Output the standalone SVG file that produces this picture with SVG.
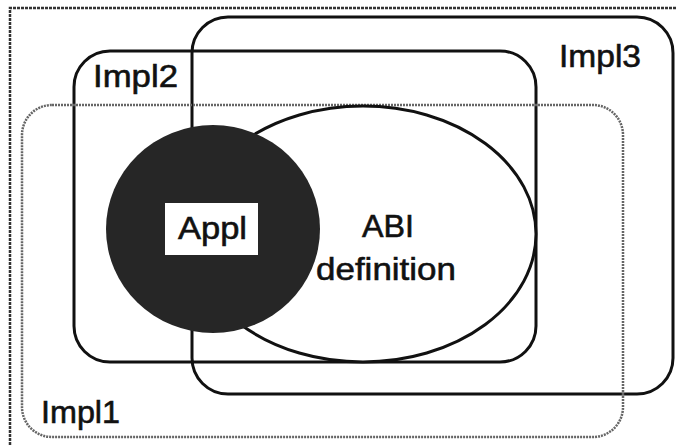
<svg xmlns="http://www.w3.org/2000/svg" width="676" height="445" viewBox="0 0 676 445">
  <style>
    .solid { fill: none; stroke: #111; stroke-width: 3; }
    .dotted { fill: none; stroke: #666; stroke-width: 2.5; stroke-dasharray: 2 1; }
    .label { font-family: "Liberation Sans", Arial, Helvetica, sans-serif; font-size: 32px; fill: #111; stroke: #111; stroke-width: 0.6; }
  </style>
  <rect width="676" height="445" fill="#fff"/>

  <!-- page frame (top and left edges) -->
  <path d="M10,445 V8 H676" fill="none" stroke="#333" stroke-width="2.5" stroke-dasharray="3 1"/>

  <g id="impl3">
    <rect class="solid" x="192" y="17" width="481" height="377" rx="36" ry="36"/>
    <text class="label" x="559" y="67" textLength="82" lengthAdjust="spacingAndGlyphs">Impl3</text>
  </g>

  <g id="impl2">
    <rect class="solid" x="74" y="51" width="462" height="311" rx="36" ry="36"/>
    <text class="label" x="93" y="87" textLength="85" lengthAdjust="spacingAndGlyphs">Impl2</text>
  </g>

  <g id="impl1">
    <rect class="dotted" x="22" y="105" width="601" height="332" rx="30" ry="30"/>
    <text class="label" x="41" y="423" textLength="79" lengthAdjust="spacingAndGlyphs">Impl1</text>
  </g>

  <g id="abi">
    <ellipse cx="363" cy="234" rx="173" ry="128" fill="#fff" stroke="#111" stroke-width="3"/>
    <text class="label" x="362" y="237" textLength="52" lengthAdjust="spacingAndGlyphs">ABI</text>
    <text class="label" x="316" y="280" textLength="140" lengthAdjust="spacingAndGlyphs">definition</text>
  </g>

  <g id="appl">
    <ellipse cx="213" cy="229" rx="107" ry="104" fill="#262626"/>
    <rect x="165" y="203" width="93" height="52" fill="#fff"/>
    <text class="label" x="178" y="239" textLength="69" lengthAdjust="spacingAndGlyphs">Appl</text>
  </g>
</svg>
